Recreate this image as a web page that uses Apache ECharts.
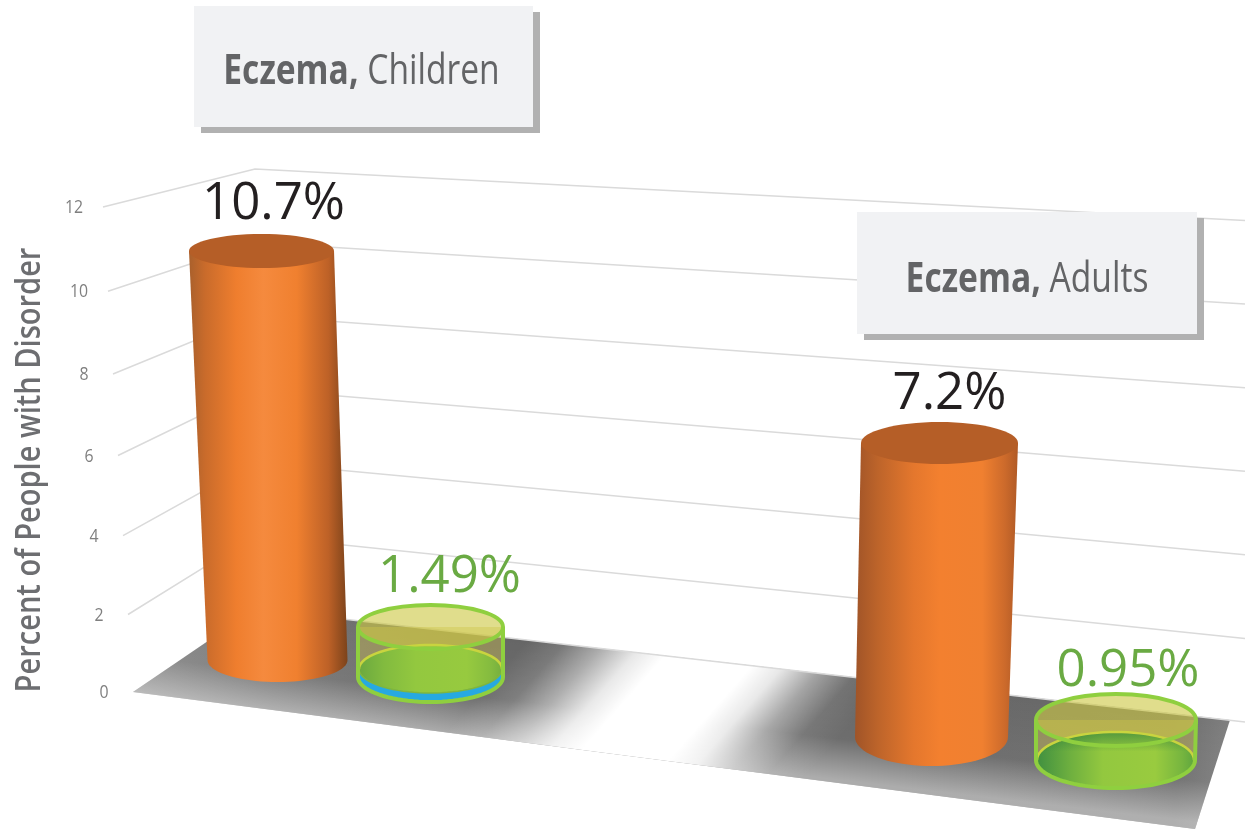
<!DOCTYPE html>
<html>
<head>
<meta charset="utf-8">
<title>Eczema</title>
<script src="https://cdn.jsdelivr.net/npm/echarts@6/dist/echarts.min.js"></script>
<style>
    html, body {margin: 0; padding: 0; background: #fff;}
    #chart {width: 1245px; height: 829px;}
</style>
</head>
<body>
<div id="chart"></div>
<script>
// values
const categories = ["Children", "Adults"];
const orangeValues = [10.7, 7.2];
const greenValues = [1.49, 0.95];
const yTicks = [0, 2, 4, 6, 8, 10, 12];
const yMax = 12;
const yStep = 2;
const yTitle = "Percent of People with Disorder";

// fake 3d layout, one entry per category
const orangeLayout = [
    {dx: -68.5, drop: -32, scale: 0.946, lean: -16, rxTop: 72.5, ryTop: 17, rxBase: 70, ryBase: 22, labelDx: 12, labelDy: -50},
    {dx: -95.5, drop: 45, scale: 1.01, lean: 8, rxTop: 78.5, ryTop: 21, rxBase: 76.5, ryBase: 29, labelDx: 10, labelDy: -53},
];
const greenLayout = [
    {dx: 84.5, drop: -15, scale: 0.83, lean: 0, rxTop: 72.5, ryTop: 22, rxBase: 72.5, ryBase: 25, labelDx: 19, labelDy: -54, blue: true},
    {dx: 88.5, drop: 68, scale: 1.04, lean: 0.5, rxTop: 80, ryTop: 26, rxBase: 79.5, ryBase: 28, labelDx: 12, labelDy: -53},
];
const orangeShades = [
    [[0, "#a9602c"], [0.1, "#c96b2b"], [0.3, "#ef7e2e"], [0.47, "#f58a3e"], [0.68, "#f0802f"], [0.88, "#bd6127"], [1, "#7c431b"]],
    [[0, "#a05428"], [0.14, "#bd642a"], [0.36, "#e4772d"], [0.52, "#f3802f"], [0.78, "#f08030"], [0.92, "#cc6a2b"], [1, "#b05a26"]],
];
const greenShades = [
    [[0, "#6aa83f"], [0.18, "#82bb3f"], [0.4, "#93c83f"], [0.75, "#97ca3f"], [0.92, "#84bb3f"], [1, "#74ae3f"]],
    [[0, "#3f8f40"], [0.22, "#6fb03f"], [0.42, "#93c83f"], [0.75, "#99cb3f"], [0.92, "#76b53f"], [1, "#5da53e"]],
];

const LABEL_FONT = "Open Sans, sans-serif";

function arc(cx, cy, rx, ry, from, to) {
    const pts = [];
    const n = 40;
    for (let i = 0; i <= n; i++) {
        const a = from + (to - from) * i / n;
        pts.push([cx + rx * Math.cos(a), cy + ry * Math.sin(a)]);
    }
    return pts;
}

function hGrad(x1, x2, stops) {
    return {
        type: "linear", global: true, x: x1, y: 0, x2: x2, y2: 0,
        colorStops: stops.map(s => ({offset: s[0], color: s[1]})),
    };
}

// gridlines bend a little with perspective
function sag(v) {
    return v * (yMax - v) / 6;
}

function renderWall(params, api) {
    const v = api.value(1);
    const y0 = api.coord([0, 0])[1];
    const y = api.coord([0, v])[1];
    const size = y0 - y;
    const leftX = 133 - v * 2.5;
    const tickY = y + sag(v);
    const backY = y0 - 83 - size * 0.907;
    const endY = y0 + 30 - size * 1.034;
    const line = {stroke: "#dadada", lineWidth: 1.5, fill: null};
    const children = [{
        type: "text", x: leftX - 29, y: tickY + 1, scaleX: 0.88,
        style: {
            text: String(v), x: 0, y: 0, align: "center", verticalAlign: "middle",
            font: "18px " + LABEL_FONT, fill: "#7f7f7f",
        },
    }];
    if (v > 0) {
        children.push({type: "polyline", shape: {points: [[leftX, tickY], [255, backY], [1245, endY]]}, style: line});
    } else {
        children.push({type: "polyline", shape: {points: [[255, backY], [1245, endY]]}, style: line});
    }
    return {type: "group", children};
}

function renderFloor(params, api) {
    const y0 = api.coord([0, 0])[1];
    const pts = [[133, y0], [255, y0 - 83], [1230, y0 + 28], [1195, y0 + 137]];
    return {
        type: "group",
        children: [
            {
                type: "polygon", shape: {points: pts},
                style: {fill: hGrad(133, 1230, [[0, "#8c8c8c"], [0.12, "#787878"], [0.3, "#666666"], [0.7, "#666666"], [0.95, "#6c6c6c"], [1, "#808080"]])},
            },
            {
                type: "polygon", shape: {points: pts},
                style: {
                    fill: {
                        type: "linear", global: true, x: 612, y: y0 - 42, x2: 600, y2: y0 + 60,
                        colorStops: [
                            {offset: 0, color: "rgba(255,255,255,0)"},
                            {offset: 0.6, color: "rgba(255,255,255,0.05)"},
                            {offset: 1, color: "rgba(255,255,255,0.46)"},
                        ],
                    },
                },
            },
            // the slanted gap between the two shadows
            {
                type: "polygon", shape: {points: pts},
                style: {
                    fill: {
                        type: "linear", global: true, x: 553, y: y0 - 81, x2: 777, y2: y0 + 117,
                        colorStops: [
                            {offset: 0, color: "rgba(255,255,255,0)"},
                            {offset: 0.1, color: "rgba(255,255,255,0.12)"},
                            {offset: 0.2, color: "rgba(255,255,255,0.45)"},
                            {offset: 0.3, color: "rgba(255,255,255,0.85)"},
                            {offset: 0.38, color: "rgba(255,255,255,1)"},
                            {offset: 0.62, color: "rgba(255,255,255,1)"},
                            {offset: 0.7, color: "rgba(255,255,255,0.85)"},
                            {offset: 0.8, color: "rgba(255,255,255,0.4)"},
                            {offset: 0.9, color: "rgba(255,255,255,0.08)"},
                            {offset: 1, color: "rgba(255,255,255,0)"},
                        ],
                    },
                },
            },
        ],
    };
}

function valueText(text, x, y, color) {
    return {
        type: "text",
        style: {text, x, y, align: "center", verticalAlign: "middle", font: "51px " + LABEL_FONT, fill: color},
    };
}

function renderOrange(params, api) {
    const i = api.value(0);
    const v = api.value(1);
    const s = orangeLayout[i];
    const p0 = api.coord([i, 0]);
    const height = (p0[1] - api.coord([i, v])[1]) * s.scale;
    const bx = p0[0] + s.dx;
    const by = p0[1] + s.drop;
    const tx = bx + s.lean;
    const ty = by - height;
    const left = Math.min(tx - s.rxTop, bx - s.rxBase);
    const right = Math.max(tx + s.rxTop, bx + s.rxBase);
    const body = [[tx - s.rxTop, ty]].concat(arc(bx, by, s.rxBase, s.ryBase, Math.PI, 0), [[tx + s.rxTop, ty]]);
    return {
        type: "group",
        children: [
            {type: "polygon", shape: {points: body}, style: {fill: hGrad(left, right, orangeShades[i])}},
            {type: "ellipse", shape: {cx: tx, cy: ty, rx: s.rxTop, ry: s.ryTop}, style: {fill: "#b55e27"}},
            valueText(v + "%", tx + s.labelDx, ty + s.labelDy + 4, "#231f20"),
        ],
    };
}

function renderGreen(params, api) {
    const i = api.value(0);
    const v = api.value(1);
    const s = greenLayout[i];
    const p0 = api.coord([i, 0]);
    const height = (p0[1] - api.coord([i, v])[1]) * s.scale;
    const bx = p0[0] + s.dx;
    const by = p0[1] + s.drop;
    const tx = bx + s.lean;
    const ty = by - height;
    const outline = [[tx - s.rxTop, ty]].concat(arc(bx, by, s.rxBase, s.ryBase, Math.PI, 0), [[tx + s.rxTop, ty]]);
    const lime = "#8fcf3f";
    const innerY = by - (s.blue ? 8 : 0);
    const innerRy = s.ryBase - (s.blue ? 1 : 0);
    const inner = {cx: bx, cy: innerY, rx: s.rxBase - 1, ry: innerRy};
    const children = [
        {type: "polygon", shape: {points: outline}, style: {fill: "rgba(205,190,80,0.42)"}},
        {type: "ellipse", shape: {cx: tx, cy: ty, rx: s.rxTop, ry: s.ryTop}, style: {fill: "rgba(205,200,70,0.62)"}},
    ];
    if (s.blue) {
        children.push({type: "ellipse", shape: {cx: bx, cy: by, rx: s.rxBase, ry: s.ryBase}, style: {fill: "#27a9e1"}});
    }
    children.push({
        type: "ellipse", shape: inner,
        style: {fill: hGrad(bx - s.rxBase, bx + s.rxBase, greenShades[i])},
    });
    // darker back part of the bottom disc
    children.push({
        type: "ellipse", shape: inner,
        style: {
            fill: {
                type: "linear", global: true, x: 0, y: innerY - innerRy, x2: 0, y2: innerY + innerRy,
                colorStops: [
                    {offset: 0, color: "rgba(40,120,60," + (s.blue ? 0 : 0.6) + ")"},
                    {offset: 0.35, color: "rgba(40,120,60,0)"},
                    {offset: 1, color: "rgba(40,120,60,0)"},
                ],
            },
        },
    });
    children.push({
        type: "polyline", shape: {points: arc(bx, innerY, s.rxBase - 1, innerRy, Math.PI, 2 * Math.PI)},
        style: {stroke: "#c9d43f", lineWidth: 2.5, fill: null},
    });
    if (s.blue) {
        children.push({
            type: "polyline", shape: {points: arc(bx, innerY, s.rxBase - 1, innerRy, Math.PI, 0)},
            style: {stroke: "#7fb53f", lineWidth: 1.5, fill: null},
        });
    }
    children.push({
        type: "ellipse", shape: {cx: tx, cy: ty, rx: s.rxTop, ry: s.ryTop},
        style: {fill: null, stroke: lime, lineWidth: 4},
    });
    children.push({type: "polyline", shape: {points: outline}, style: {stroke: lime, lineWidth: 4, fill: null}});
    children.push(valueText(v + "%", tx + s.labelDx, ty + s.labelDy + 4, "#6aaa43"));
    return {type: "group", children};
}

function titleBox(x, y, width, height, dx, dy, name) {
    return {
        type: "group", silent: true,
        children: [
            {type: "rect", z: 100, shape: {x: x + 7, y: y + 6, width: width, height: height}, style: {fill: "#b1b1b1"}},
            {type: "rect", z: 101, shape: {x: x, y: y, width: width, height: height}, style: {fill: "#f1f2f4"}},
            {
                type: "text", z: 102, x: x + width / 2 + dx, y: y + height / 2 + dy, scaleX: 0.8,
                style: {
                    x: 0, y: 0, align: "center", verticalAlign: "middle",
                    rich: {
                        b: {font: "bold 42px 'Open Sans', sans-serif", fill: "#636466"},
                        n: {font: "42px 'Open Sans', sans-serif", fill: "#636466"},
                    },
                    text: "{b|Eczema,}{n| " + name + "}",
                },
            },
        ],
    };
}

const option = {
    animation: false,
    backgroundColor: "#fff",
    grid: {left: 346, right: 218, top: 207, bottom: 137, outerBoundsMode: "none"},
    xAxis: {
        type: "category", data: categories, boundaryGap: false,
        axisLine: {show: false}, axisTick: {show: false}, axisLabel: {show: false},
    },
    yAxis: {
        type: "value", min: 0, max: yMax, interval: yStep,
        axisLine: {show: false}, axisTick: {show: false}, axisLabel: {show: false}, splitLine: {show: false},
    },
    graphic: [
        titleBox(194, 6, 339, 121, -2, 6, categories[0]),
        titleBox(857, 212, 340, 122, 0, 7, categories[1]),
        {
            type: "text", z: 100, silent: true, x: 30, y: 470, rotation: Math.PI / 2, scaleX: 0.83,
            style: {
                text: yTitle, x: 0, y: 0, align: "center", verticalAlign: "middle",
                font: "600 35px 'Open Sans', sans-serif", fill: "#6d6e71",
            },
        },
    ],
    series: [
        {type: "custom", name: "Floor", z: 1, renderItem: renderFloor, data: [[0, 0]], silent: true},
        {type: "custom", name: "Gridlines", z: 2, renderItem: renderWall, data: yTicks.map(v => [0, v]), silent: true},
        {type: "custom", name: "Orange", z: 3, renderItem: renderOrange, data: orangeValues.map((v, i) => [i, v])},
        {type: "custom", name: "Green", z: 4, renderItem: renderGreen, data: greenValues.map((v, i) => [i, v])},
    ],
};

const chart = echarts.init(document.getElementById("chart"));
chart.setOption(option);
</script>
</body>
</html>
